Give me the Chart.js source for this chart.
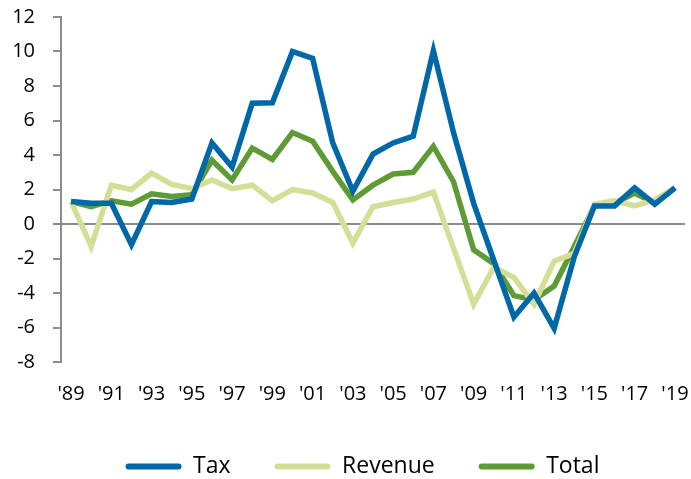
<!DOCTYPE html>
<html>
<head>
<meta charset="utf-8">
<script src="https://cdn.jsdelivr.net/npm/chart.js@4/dist/chart.umd.min.js"></script>
<style>
  html, body { margin: 0; padding: 0; background: #fff; }
  #wrap { width: 691px; height: 479px; }
</style>
</head>
<body>
<div id="wrap"><canvas id="fiscal"></canvas></div>
<script>
const years = [];
for (let y = 1989; y <= 2019; y++) years.push(String(y));

const tax = [1.3, 1.2, 1.2, -1.2, 1.3, 1.25, 1.45, 4.7, 3.3, 7.0, 7.03, 10.0, 9.6, 4.7, 1.9,
  4.05, 4.7, 5.1, 10.05, 5.3, 1.2, -2.1, -5.4, -4.0, -6.05, -1.9, 1.05, 1.05, 2.1, 1.15, 2.1];
const revenue = [1.3, -1.3, 2.25, 2.0, 2.95, 2.3, 2.05, 2.55, 2.05, 2.25, 1.35, 2.0, 1.8, 1.25, -1.1,
  1.0, 1.25, 1.45, 1.85, -1.4, -4.65, -2.5, -3.1, -4.65, -2.15, -1.7, 1.15, 1.35, 1.05, 1.4, 2.1];
const total = [1.3, 1.0, 1.35, 1.15, 1.75, 1.6, 1.7, 3.7, 2.55, 4.4, 3.75, 5.3, 4.8, 3.05, 1.4,
  2.25, 2.9, 3.0, 4.5, 2.45, -1.5, -2.3, -4.15, -4.4, -3.6, -1.3, 1.05, 1.2, 1.8, 1.2, 2.1];

const FONT = "'Open Sans', sans-serif";

// the legend in the original sits a bit lower / further right, nudge it
const legendNudge = {
  id: "legendNudge",
  afterInit(chart) {
    const lg = chart.legend;
    if (!lg) return;
    const draw = lg.draw;
    lg.draw = function (area) {
      this.ctx.save();
      this.ctx.translate(20, 9);
      draw.call(this, area);
      this.ctx.restore();
    };
  }
};

new Chart(document.getElementById("fiscal"), {
  type: "line",
  data: {
    labels: years,
    datasets: [
      { label: "Tax", data: tax, borderColor: "#0067a8", backgroundColor: "#0067a8" },
      { label: "Revenue", data: revenue, borderColor: "#d5de96", backgroundColor: "#d5de96" },
      { label: "Total", data: total, borderColor: "#5f9b34", backgroundColor: "#5f9b34" }
    ]
  },
  plugins: [legendNudge],
  options: {
    responsive: true,
    maintainAspectRatio: false,
    animation: false,
    datasets: {
      line: { borderWidth: 5.5, pointRadius: 0, tension: 0, fill: false, borderJoinStyle: "miter" }
    },
    layout: { padding: { top: 17, right: 6, left: 0, bottom: 0 } },
    scales: {
      x: {
        offset: true,
        afterFit: (s) => { s.height = 40; s.paddingLeft = 0; s.paddingRight = 0; },
        grid: { display: false, drawTicks: false },
        border: { display: false },
        ticks: {
          autoSkip: false,
          maxRotation: 0,
          padding: 20,
          color: "#000",
          font: { family: FONT, size: 20 },
          callback: function (v, i) {
            return i % 2 === 0 ? "'" + years[i].slice(2) : "";
          }
        }
      },
      y: {
        min: -8,
        max: 12,
        afterFit: (s) => { s.width = 61; s.paddingTop = 0; s.paddingBottom = 0; },
        ticks: {
          stepSize: 2,
          padding: 18,
          color: "#000",
          font: { family: FONT, size: 20 }
        },
        border: { display: true, color: "#8c8c8c", width: 2 },
        grid: {
          drawOnChartArea: true,
          tickLength: 8,
          lineWidth: 2,
          tickColor: "#8c8c8c",
          color: (c) => (c.tick && c.tick.value === 0 ? "#8c8c8c" : "rgba(0,0,0,0)")
        }
      }
    },
    plugins: {
      tooltip: { enabled: false },
      legend: {
        position: "bottom",
        labels: {
          boxWidth: 56,
          boxHeight: 6,
          useBorderRadius: true,
          borderRadius: 3,
          padding: 44,
          color: "#000",
          font: { family: FONT, size: 23 },
          generateLabels: (chart) => {
            const items = Chart.defaults.plugins.legend.labels.generateLabels(chart);
            items.forEach((it) => { it.lineWidth = 0; });
            return items;
          }
        }
      }
    }
  }
});
</script>
</body>
</html>
